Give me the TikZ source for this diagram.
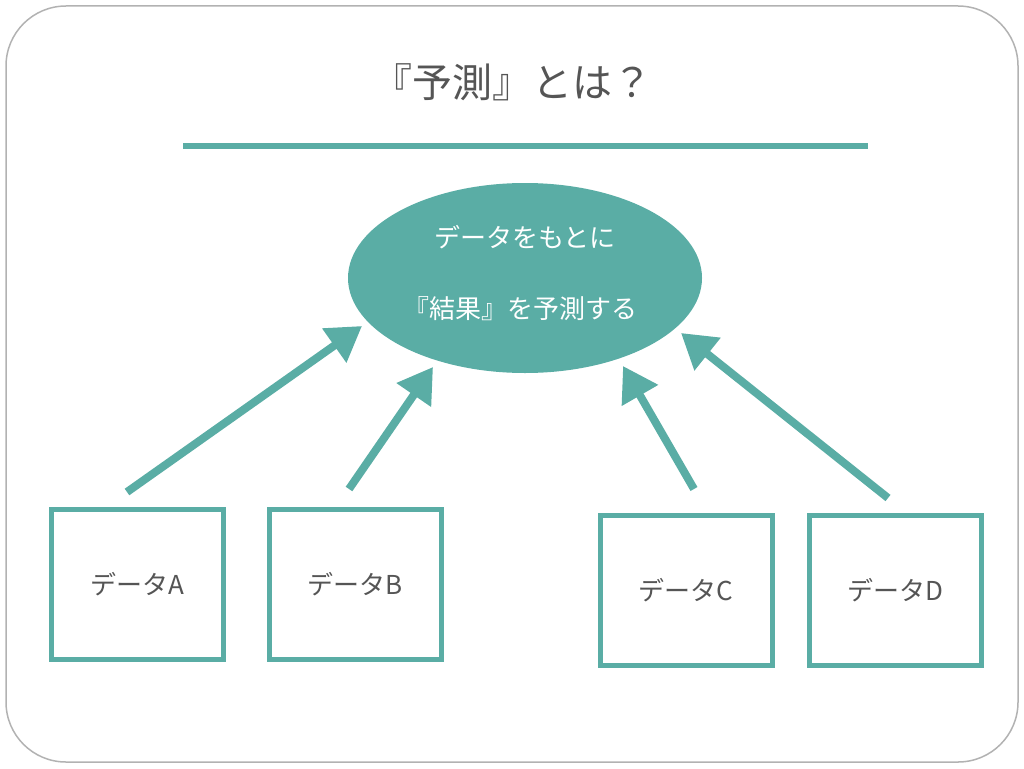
\documentclass[tikz,border=0pt]{standalone}
\usepackage{fontspec}
\setmainfont{Noto Sans CJK JP}
\usetikzlibrary{arrows.meta,shapes.geometric}
\definecolor{teal1}{HTML}{5AADA5}
\definecolor{txt}{HTML}{555555}
\begin{document}
\begin{tikzpicture}[x=1pt,y=-1pt,
  box/.style={draw=teal1,line width=5pt,minimum width=172pt,minimum height=150pt,font=\fontsize{26}{30}\selectfont,text=txt},
  arr/.style={draw=teal1,line width=8pt,-{Triangle[length=34pt,width=40pt]}}]
\useasboundingbox (0,0) rectangle (1024,768);
\draw[draw=gray!60,line width=1.5pt,rounded corners=60pt] (6,6) rectangle (1018,762);
\node[text=txt,font=\fontsize{40}{48}\selectfont] (title) at (512,82) {『予測』とは？};
\draw[teal1,line width=6pt] (183,146) -- (868,146);
\node[fill=teal1,ellipse,minimum width=354pt,minimum height=190pt] (e) at (525,278) {};
\node[text=white,font=\fontsize{26}{30}\selectfont] (t1) at (525,237) {データをもとに};
\node[text=white,font=\fontsize{26}{30}\selectfont] (t2) at (520,309) {『結果』を予測する};
\node[box] (a) at (137,584) {データA};
\node[box] (b) at (355,584) {データB};
\node[box] (c) at (686,590) {データC};
\node[box] (d) at (895,590) {データD};
\coordinate (a1) at (127,492); \coordinate (a2) at (362,326);
\coordinate (b1) at (349,489); \coordinate (b2) at (433,367);
\coordinate (c1) at (694,489); \coordinate (c2) at (623,366);
\coordinate (d1) at (888,498); \coordinate (d2) at (681,333);
\draw[arr] (a1) -- (a2);
\draw[arr] (b1) -- (b2);
\draw[arr] (c1) -- (c2);
\draw[arr] (d1) -- (d2);
\end{tikzpicture}
\end{document}
